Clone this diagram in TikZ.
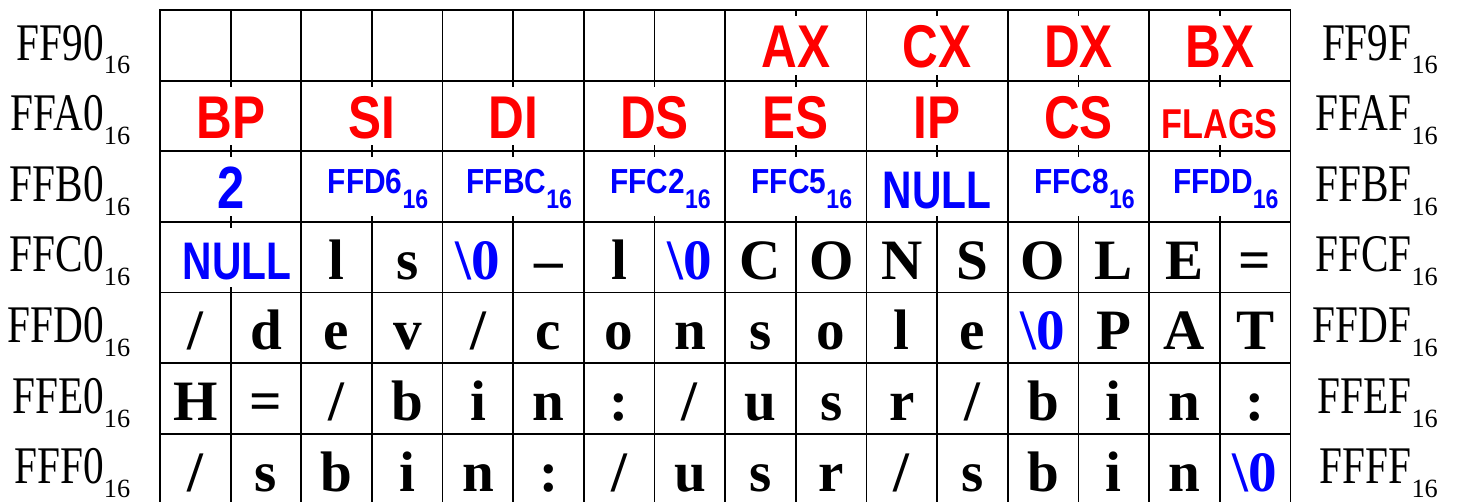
\documentclass[tikz,border=0pt]{standalone}
\usepackage{fontspec}
\setmainfont{Liberation Serif}
\newfontfamily\addrfont[FakeStretch=0.78]{Liberation Serif}
\newfontfamily\regfont[FakeStretch=0.82]{Liberation Sans}
\newfontfamily\valfont[FakeStretch=0.77]{Liberation Sans}
\newfontfamily\ptrfont[FakeStretch=0.86]{Liberation Sans}
\usepackage{xcolor}
\usepackage{tikz}
\usetikzlibrary{positioning}

\newcommand{\hexsub}[1]{\raisebox{-5.6pt}{\rmfamily\fontsize{10.6}{11}\selectfont #1}}
\newcommand{\ptrsub}[1]{\raisebox{-6pt}{\fontsize{10.8}{11}\selectfont #1}}
\newcommand{\nul}{{\color{blue}\textbackslash 0}}

\tikzset{
    memline/.style={line width=0.7pt},
    addr/.style={anchor=base east, inner sep=0pt,
        font=\fontsize{21.3}{24}\addrfont},
    byte/.style={anchor=base, inner sep=0pt,
        font=\fontsize{23}{26}\selectfont\bfseries},
    reg/.style={anchor=base, inner sep=0pt, text=red,
        font=\fontsize{24.3}{27}\regfont\bfseries},
    val/.style={anchor=base, inner sep=0pt, text=blue,
        font=\fontsize{21.3}{24}\valfont\bfseries},
    ptr/.style={anchor=base, inner sep=0pt, text=blue,
        font=\fontsize{14}{16}\ptrfont\bfseries}
}

\begin{document}
\begin{tikzpicture}
    \useasboundingbox (-2.265,0.1415) rectangle (18.386,-6.950);

    % memory grid
    \draw[memline] (0,0) rectangle (16,-7);
    \foreach \r in {1,...,6}
        \draw[memline] (0,-\r) -- (16,-\r);

    % column borders, row by row
    \foreach \x in {1,2,3,4,5,6,7,8,10,12,14}
        \draw[memline] (\x,0) -- (\x,-1);
    \foreach \x in {2,4,...,14} {
        \draw[memline] (\x,-1) -- (\x,-2);
        \draw[memline] (\x,-2) -- (\x,-3);
    }
    \foreach \x in {2,...,15}
        \draw[memline] (\x,-3) -- (\x,-4);
    \foreach \r in {4,5,6}
        \foreach \x in {1,...,15}
            \draw[memline] (\x,-\r) -- (\x,-\r-1);

    % ticks in the middle of two-byte words
    \foreach \x/\r in {9/0,11/0,13/0,15/0,
                       1/1,3/1,5/1,7/1,9/1,11/1,13/1,15/1,
                       1/2,3/2,5/2,7/2,9/2,11/2,13/2,15/2,
                       1/3} {
        \draw[memline] (\x,-\r) -- ++(0,-0.085);
        \draw[memline] (\x,-\r-1) -- ++(0,0.085);
    }

    % addresses
    \foreach \h [count=\r from 0] in {9,A,B,C,D,E,F} {
        \node[addr] (left\r) at (-0.415,-\r-0.708) {FF\h0\hexsub{16}};
        \node[addr] (right\r) at (18.093,-\r-0.708) {FF\h F\hexsub{16}};
    }

    % registers
    \foreach \w [count=\c from 4] in {AX,CX,DX,BX}
        \node[reg] (top\w) at (2*\c+1,-0.82) {\w};
    \foreach \w [count=\c from 0] in {BP,SI,DI,DS,ES,IP,CS}
        \node[reg] (saved\w) at (2*\c+1,-1.815) {\w};
    \node[reg, font=\fontsize{16.8}{19}\regfont\bfseries] (savedFLAGS) at (15,-1.815) {FLAGS};

    % argc, argv, envp
    \node[val, font=\fontsize{24}{27}\regfont\bfseries] (argc) at (1,-2.81) {2};
    \foreach \p/\x in {FFD6/3,FFBC/5,FFC2/7,FFC5/9,FFC8/13,FFDD/15}
        \node[ptr] (ptr\p) at (\x+0.085,-2.6) {\p\ptrsub{16}};
    \node[val] (nullA) at (11,-2.81) {NULL};
    \node[val] (nullB) at (1.09,-3.815) {NULL};

    % strings
    \foreach \ch [count=\c from 2] in {l,s,\nul,\textendash,l,\nul,C,O,N,S,O,L,E,=}
        \node[byte] (fc\c) at (\c+0.5,-3.81) {\ch};
    \foreach \ch [count=\c from 0] in {/,d,e,v,/,c,o,n,s,o,l,e,\nul,P,A,T}
        \node[byte] (fd\c) at (\c+0.5,-4.81) {\ch};
    \foreach \ch [count=\c from 0] in {H,=,/,b,i,n,:,/,u,s,r,/,b,i,n,:}
        \node[byte] (fe\c) at (\c+0.5,-5.81) {\ch};
    \foreach \ch [count=\c from 0] in {/,s,b,i,n,:,/,u,s,r,/,s,b,i,n,\nul}
        \node[byte] (ff\c) at (\c+0.5,-6.81) {\ch};
\end{tikzpicture}
\end{document}
